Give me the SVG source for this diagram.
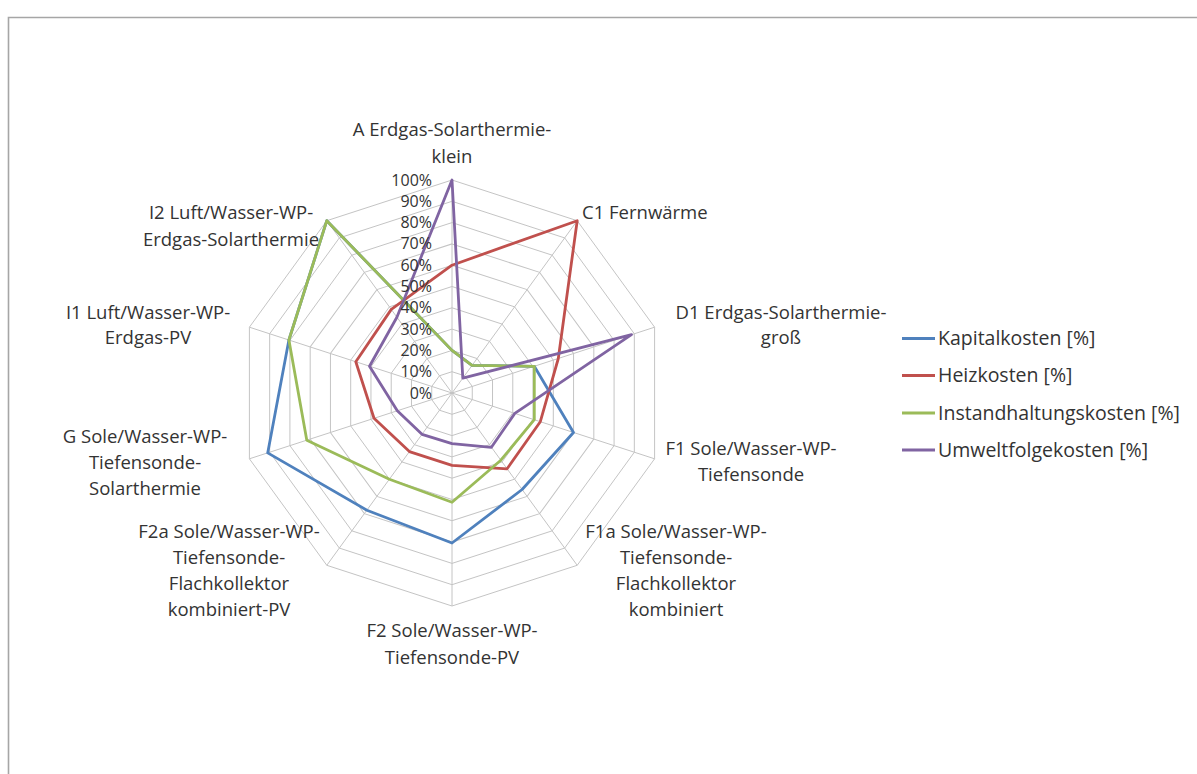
<svg xmlns="http://www.w3.org/2000/svg" xmlns:xlink="http://www.w3.org/1999/xlink" width="1197" height="774" viewBox="0 0 1197 774">
<style>
.cat{font-family:"Open Sans","Liberation Sans",sans-serif;font-size:18.5px;fill:#333333;text-anchor:middle}
.catl{font-family:"Open Sans","Liberation Sans",sans-serif;font-size:18.5px;fill:#333333;text-anchor:start}
.tick{font-family:"Open Sans","Liberation Sans",sans-serif;font-size:16px;fill:#333333;text-anchor:end}
.leg{font-family:"Open Sans","Liberation Sans",sans-serif;font-size:19.5px;fill:#333333}
.grid{fill:none;stroke:#c4c4c4}
.ser{fill:none;stroke-width:2.8;stroke-linejoin:round}
</style>
<defs>
<polygon id="dec" points="0,-213 125.2,-172.3 202.6,-65.8 202.6,65.8 125.2,172.3 0,213 -125.2,172.3 -202.6,65.8 -202.6,-65.8 -125.2,-172.3"/>
</defs>
<rect x="0" y="0" width="1197" height="774" fill="#ffffff"/>
<path d="M8.5,790 L8.5,17.5 L1210,17.5" fill="none" stroke="#a6a6a6" stroke-width="1.6"/>
<g id="grid" transform="translate(452 393)" class="grid">
<use xlink:href="#dec" transform="scale(0.1)" stroke-width="10"/>
<use xlink:href="#dec" transform="scale(0.2)" stroke-width="5"/>
<use xlink:href="#dec" transform="scale(0.3)" stroke-width="3.333"/>
<use xlink:href="#dec" transform="scale(0.4)" stroke-width="2.5"/>
<use xlink:href="#dec" transform="scale(0.5)" stroke-width="2"/>
<use xlink:href="#dec" transform="scale(0.6)" stroke-width="1.667"/>
<use xlink:href="#dec" transform="scale(0.7)" stroke-width="1.429"/>
<use xlink:href="#dec" transform="scale(0.8)" stroke-width="1.25"/>
<use xlink:href="#dec" transform="scale(0.9)" stroke-width="1.111"/>
<use xlink:href="#dec" stroke-width="1"/>
<path d="M0,0 L0,-213 M0,0 L125.2,-172.3 M0,0 L202.6,-65.8 M0,0 L202.6,65.8 M0,0 L125.2,172.3 M0,0 L0,213 M0,0 L-125.2,172.3 M0,0 L-202.6,65.8 M0,0 L-202.6,-65.8 M0,0 L-125.2,-172.3" stroke-width="1"/>
</g>
<g id="series" transform="translate(452 393)">
<polygon id="kapital" class="ser" stroke="#4F81BD" points="0,-42.6 20,-27.6 82.3,-26.7 121.5,39.5 70.1,96.5 0,150 -85.1,117.2 -184.3,59.9 -163.1,-53 -125.2,-172.3"/>
<polygon id="heiz" class="ser" stroke="#C0504D" points="0,-127.8 125.2,-172.3 106.3,-34.5 88.3,28.7 55.1,75.8 0,72.4 -42.6,58.6 -78,25.3 -96.2,-31.3 -60.7,-83.6"/>
<polygon id="instand" class="ser" stroke="#9BBB59" points="0,-42.6 20,-27.6 82.3,-26.7 82.3,26.7 48.8,67.2 0,109.3 -62.6,86.2 -145.2,47.2 -163.1,-53 -125.2,-172.3"/>
<polygon id="umwelt" class="ser" stroke="#8064A2" points="0,-213 10.8,-14.8 179.5,-58.3 62.8,20.4 39.4,54.3 0,50.7 -30,41.3 -54.7,17.8 -82.5,-26.8 -55.1,-75.8"/>
</g>
<g id="ticks">
<text class="tick" x="432" y="398.5">0%</text>
<text class="tick" x="432" y="377.2">10%</text>
<text class="tick" x="432" y="355.9">20%</text>
<text class="tick" x="432" y="334.6">30%</text>
<text class="tick" x="432" y="313.3">40%</text>
<text class="tick" x="432" y="292">50%</text>
<text class="tick" x="432" y="270.7">60%</text>
<text class="tick" x="432" y="249.4">70%</text>
<text class="tick" x="432" y="228.1">80%</text>
<text class="tick" x="432" y="206.8">90%</text>
<text class="tick" x="432" y="185.5">100%</text>
</g>
<g id="label-A"><text class="cat" x="452" y="136">A Erdgas-Solarthermie-</text><text class="cat" x="452" y="163">klein</text></g>
<g id="label-C1"><text class="catl" x="582" y="219">C1 Fernwärme</text></g>
<g id="label-D1"><text class="cat" x="781" y="319">D1 Erdgas-Solarthermie-</text><text class="cat" x="781" y="344">groß</text></g>
<g id="label-F1"><text class="cat" x="751" y="455">F1 Sole/Wasser-WP-</text><text class="cat" x="751" y="481">Tiefensonde</text></g>
<g id="label-F1a"><text class="cat" x="676" y="538">F1a Sole/Wasser-WP-</text><text class="cat" x="676" y="564">Tiefensonde-</text><text class="cat" x="676" y="590">Flachkollektor</text><text class="cat" x="676" y="616">kombiniert</text></g>
<g id="label-F2"><text class="cat" x="452" y="637">F2 Sole/Wasser-WP-</text><text class="cat" x="452" y="664">Tiefensonde-PV</text></g>
<g id="label-F2a"><text class="cat" x="229" y="538">F2a Sole/Wasser-WP-</text><text class="cat" x="229" y="564">Tiefensonde-</text><text class="cat" x="229" y="590">Flachkollektor</text><text class="cat" x="229" y="616">kombiniert-PV</text></g>
<g id="label-G"><text class="cat" x="145" y="443">G Sole/Wasser-WP-</text><text class="cat" x="145" y="469">Tiefensonde-</text><text class="cat" x="145" y="495">Solarthermie</text></g>
<g id="label-I1"><text class="cat" x="148" y="319">I1 Luft/Wasser-WP-</text><text class="cat" x="148" y="344">Erdgas-PV</text></g>
<g id="label-I2"><text class="cat" x="231" y="219">I2 Luft/Wasser-WP-</text><text class="cat" x="231" y="246">Erdgas-Solarthermie</text></g>
<g id="legend">
<line x1="902" y1="338.5" x2="935" y2="338.5" stroke="#4F81BD" stroke-width="2.8"/>
<text class="leg" x="938" y="345">Kapitalkosten [%]</text>
<line x1="902" y1="375.5" x2="935" y2="375.5" stroke="#C0504D" stroke-width="2.8"/>
<text class="leg" x="938" y="382">Heizkosten [%]</text>
<line x1="902" y1="413" x2="935" y2="413" stroke="#9BBB59" stroke-width="2.8"/>
<text class="leg" x="938" y="419.5">Instandhaltungskosten [%]</text>
<line x1="902" y1="450" x2="935" y2="450" stroke="#8064A2" stroke-width="2.8"/>
<text class="leg" x="938" y="456.5">Umweltfolgekosten [%]</text>
</g>
</svg>
